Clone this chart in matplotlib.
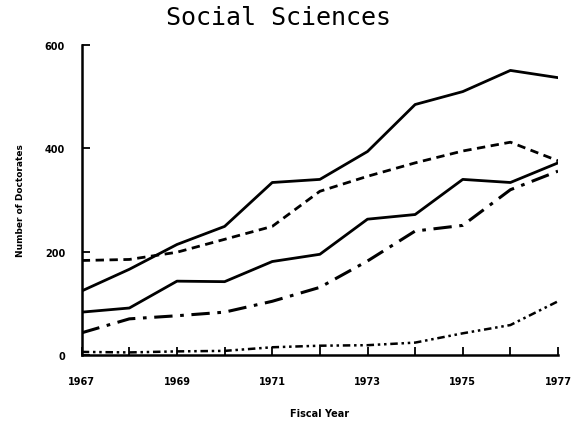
import numpy as np
import matplotlib.pyplot as plt

# Data ----------------------------------------------------------------------

years = np.arange(1967, 1978)
top_solid = [124, 166, 214, 249, 334, 340, 394, 485, 510, 551, 537]
dashed = [183, 185, 199, 224, 249, 317, 346, 372, 395, 412, 376]
low_solid = [83, 91, 143, 142, 181, 195, 263, 272, 340, 334, 372]
dash_dot = [43, 70, 76, 83, 104, 131, 182, 240, 251, 320, 356]
bottom = [6, 5, 7, 8, 15, 18, 19, 24, 42, 58, 104]

xticks = [1967, 1969, 1971, 1973, 1975, 1977]
yticks = [0, 200, 400, 600]

# Figure ----------------------------------------------------------------------

fig = plt.figure(figsize=(5.88, 4.31), dpi=100)
ax = fig.add_axes([0.139, 0.174, 0.810, 0.719])

ax.plot(years, top_solid, '-', color='black', lw=2)
ax.plot(years, dashed, color='black', lw=2, ls=(0, (3, 2)))
ax.plot(years, low_solid, '-', color='black', lw=2)
ax.plot(years, dash_dot, color='black', lw=2.2, ls=(0, (6, 2.5, 1.2, 2.5)))
ax.plot(years, bottom, color='black', lw=1.8,
        ls=(0, (3, 1.5, 1, 1.5, 1, 1.5)))

ax.set_xlim(1967, 1977)
ax.set_ylim(0, 600)
ax.spines['top'].set_visible(False)
ax.spines['right'].set_visible(False)
ax.spines['left'].set_linewidth(1.8)
ax.spines['bottom'].set_linewidth(1.8)

ax.set_xticks(years, minor=True)
ax.set_xticks(xticks)
ax.set_xticklabels([str(y) for y in xticks], fontsize=7, fontweight='bold')
ax.set_yticks(yticks)
ax.set_yticklabels([str(y) for y in yticks], fontsize=7, fontweight='bold')
ax.tick_params(axis='both', which='both', direction='in', length=6, width=1.3)
ax.tick_params(axis='x', pad=15)
ax.tick_params(axis='y', pad=12)

ax.set_xlabel('Fiscal Year', fontsize=7, fontweight='bold', labelpad=16)
ax.set_ylabel('Number of Doctorates', fontsize=6.5, fontweight='bold',
              labelpad=14)

fig.text(0.473, 0.958, 'Social Sciences', ha='center', va='center',
         fontsize=18, family='DejaVu Sans Mono', fontweight='light')

fig.savefig('out.png', dpi=100)
